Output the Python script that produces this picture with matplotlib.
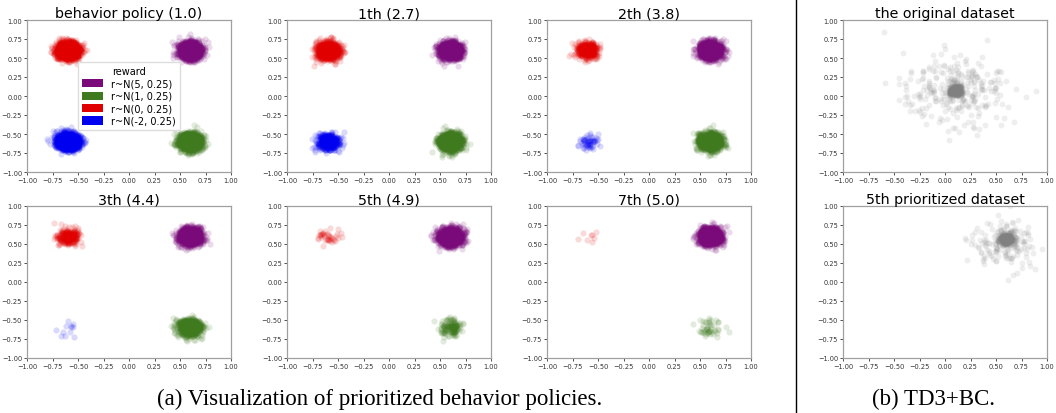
import numpy as np
import matplotlib
matplotlib.use('Agg')
import matplotlib.pyplot as plt
from matplotlib.patches import Patch
from matplotlib.lines import Line2D

# ---- data (cluster centres, spreads and point counts) ----
reward_labels = ['r~N(5, 0.25)', 'r~N(1, 0.25)', 'r~N(0, 0.25)', 'r~N(-2, 0.25)']
cluster_colors = ['#7a0a7a', '#3f7a1f', '#e00000', '#0000f0']
cluster_x = [0.6, 0.6, -0.6, -0.6]
cluster_y = [0.6, -0.6, 0.6, -0.6]
cluster_std = [0.055, 0.055, 0.055, 0.055]

policy_titles = ['behavior policy (1.0)', '1th (2.7)', '2th (3.8)',
                 '3th (4.4)', '5th (4.9)', '7th (5.0)']
# points per cluster (purple, green, red, blue) for each policy
policy_counts = [
    [1500, 1500, 1500, 1500],
    [1500, 1500, 1000, 500],
    [1500, 1200, 400, 60],
    [1500, 800, 250, 12],
    [1500, 150, 40, 0],
    [1500, 50, 8, 0],
]

td3_titles = ['the original dataset', '5th prioritized dataset']
td3_core_xy = [(0.1, 0.07), (0.6, 0.56)]
td3_core_std = [0.035, 0.035]
td3_core_n = [300, 300]
td3_spread_xy = [(0.1, 0.07), (0.58, 0.5)]
td3_spread_std = [0.25, 0.17]
td3_spread_n = [280, 160]

rng = np.random.default_rng(3)

W, H = 1056, 414
fig = plt.figure(figsize=(W / 100, H / 100), dpi=100)

col_x = [27, 287, 547]
row_y = [21, 207]
ax_w, ax_h = 204, 152
ticks = np.arange(-1.0, 1.01, 0.25)


def style_axis(ax):
    ax.set_xlim(-1, 1)
    ax.set_ylim(-1, 1)
    ax.set_xticks(ticks)
    ax.set_yticks(ticks)
    ax.set_xticklabels([f"{t:.2f}".replace('-', '\u2212') for t in ticks])
    ax.set_yticklabels([f"{t:.2f}".replace('-', '\u2212') for t in ticks])
    ax.tick_params(labelsize=4.8, length=2, width=0.6, pad=1.5,
                   colors='#333333')
    for sp in ax.spines.values():
        sp.set_color('#a0a0a0')
        sp.set_linewidth(0.9)


def make_axes(px, py):
    return fig.add_axes([px / W, 1 - (py + ax_h) / H, ax_w / W, ax_h / H])


for i, title in enumerate(policy_titles):
    ax = make_axes(col_x[i % 3], row_y[i // 3])
    for c in range(4):
        n = policy_counts[i][c]
        if n == 0:
            continue
        xs = rng.normal(cluster_x[c], cluster_std[c], n)
        ys = rng.normal(cluster_y[c], cluster_std[c], n)
        ax.scatter(xs, ys, s=20, color=cluster_colors[c], alpha=0.15,
                   linewidths=0)
    style_axis(ax)
    ax.set_title(title, fontsize=10.3, pad=2)
    if i == 0:
        handles = [Patch(facecolor=cluster_colors[c], edgecolor='none')
                   for c in range(4)]
        leg = ax.legend(handles, reward_labels, title='reward', loc='center',
                        fontsize=7, title_fontsize=7, handlelength=2.2,
                        handleheight=0.9, labelspacing=0.25, borderpad=0.4,
                        handletextpad=0.8, framealpha=1, fancybox=False,
                        edgecolor='#dddddd')

for j, title in enumerate(td3_titles):
    ax = make_axes(843, row_y[j])
    xs = np.concatenate([rng.normal(td3_core_xy[j][0], td3_core_std[j], td3_core_n[j]),
                         rng.normal(td3_spread_xy[j][0], td3_spread_std[j], td3_spread_n[j])])
    ys = np.concatenate([rng.normal(td3_core_xy[j][1], td3_core_std[j], td3_core_n[j]),
                         rng.normal(td3_spread_xy[j][1], td3_spread_std[j], td3_spread_n[j])])
    ax.scatter(xs, ys, s=18, color='#808080', alpha=0.13, linewidths=0)
    style_axis(ax)
    ax.set_title(title, fontsize=10.3, pad=2)

fig.add_artist(Line2D([796 / W, 796 / W], [0.0, 1.0], color='black', lw=1))

fig.text(380 / W, 1 - 399 / H, '(a) Visualization of prioritized behavior policies.',
         ha='center', va='center', fontsize=16.5, family='Liberation Serif')
fig.text(934 / W, 1 - 399 / H, '(b) TD3+BC.',
         ha='center', va='center', fontsize=16.5, family='Liberation Serif')

fig.savefig('out.png', dpi=100)
